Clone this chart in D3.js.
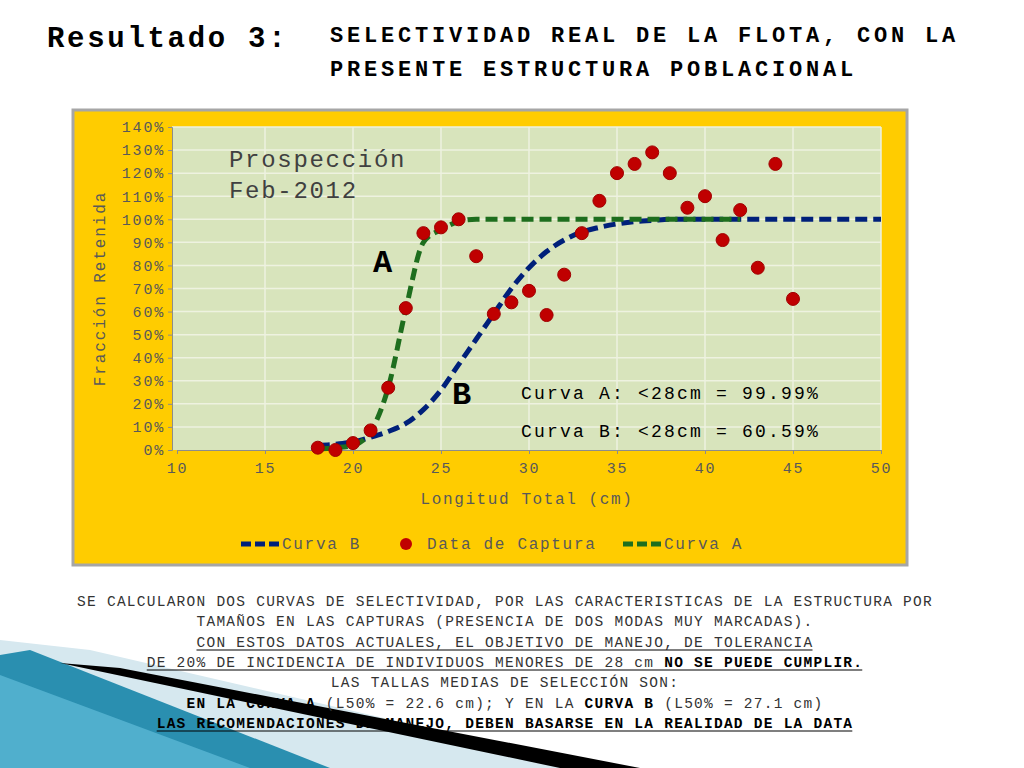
<!DOCTYPE html>
<html><head><meta charset="utf-8">
<script src="https://cdn.jsdelivr.net/npm/d3@7"></script>
<style>body{margin:0;background:#fff}svg{display:block}</style>
</head><body>
<svg id="c" width="1024" height="768"></svg>
<script>
const captureLen = [18,19,20,21,22,23,24,25,26,27,28,29,30,31,32,33,34,35,36,37,38,39,40,41,42,43,44,45];
const capturePct = [1,0,3,8.5,27,61.5,94,96.5,100,84,59,64,69,58.5,76,94,108,120,124,129,120,105,110,91,104,79,124,65.5];
const curveALen = [18,19,20,21,22,23,24,25,26,27,30,35,40,42];
const curveAPct = [0.5,1,2,8,27,61,90,95.5,99,100,100,100,100,100];
const curveBLen = [18,19,20,21,22,23,24,25,26,27,28,29,30,31,32,33,34,35,36,37,38,40,45,50];
const curveBPct = [2,2.5,3.5,5.5,8,11.5,17.5,26,37,48,59,70,79,86,91,94.5,96.5,98,99,99.5,100,100,100,100];
const xTicks = [10,15,20,25,30,35,40,45,50];
const yTicks = d3.range(0,141,10);

const svg = d3.select("#c");
const mono = "'Liberation Mono', 'DejaVu Sans Mono', monospace";

function txt(x, y, s, size, ls, opts = {}) {
  return svg.append("text").attr("x", x).attr("y", y).attr("font-family", mono)
    .attr("font-size", size).attr("letter-spacing", ls)
    .attr("font-weight", opts.bold ? "bold" : "normal").attr("fill", opts.fill || "#000")
    .attr("text-anchor", opts.anchor || "start").text(s);
}

// decorative background shapes bottom-left
svg.append("polygon").attr("points","0,640 0,768 600,768 90,650").attr("fill","#d6e8ef");
svg.append("polygon").attr("points","0,655 0,768 330,768 30,650").attr("fill","#2a8fb0");
svg.append("polygon").attr("points","0,675 0,768 250,768").attr("fill","#5ab7d4").attr("opacity",0.8);
svg.append("polygon").attr("points","60,663 120,668 640,768 560,768").attr("fill","#000");

// titles
txt(47, 47, "Resultado 3:", 29, 2.7, {bold:true});
txt(330, 42, "SELECTIVIDAD REAL DE LA FLOTA, CON LA", 22, 3.8, {bold:true});
txt(330, 76, "PRESENTE ESTRUCTURA POBLACIONAL", 22, 3.8, {bold:true});

// chart frame
svg.append("rect").attr("x",73).attr("y",110).attr("width",834).attr("height",455)
  .attr("fill","#ffcc00").attr("stroke","#a6a6a6").attr("stroke-width",3);

const m = {l:177, r:881, t:127, b:450};
svg.append("rect").attr("x",m.l-5).attr("y",m.t).attr("width",m.r-m.l+5).attr("height",m.b-m.t).attr("fill","#d8e4bc");

const x = d3.scaleLinear().domain([10,50]).range([m.l,m.r]);
const y = d3.scaleLinear().domain([0,140]).range([m.b,m.t]);

svg.append("g").selectAll("line").data(yTicks.slice(1)).join("line")
  .attr("x1",m.l-5).attr("x2",m.r).attr("y1",d=>y(d)).attr("y2",d=>y(d))
  .attr("stroke","#eef2e0").attr("stroke-width",1.5);
svg.append("g").selectAll("line").data(xTicks.slice(1)).join("line")
  .attr("x1",d=>x(d)).attr("x2",d=>x(d)).attr("y1",m.t).attr("y2",m.b)
  .attr("stroke","#eef2e0").attr("stroke-width",1.5);

const yAxis = svg.append("g").attr("transform",`translate(${m.l-5},0)`)
  .call(d3.axisLeft(y).tickValues(yTicks).tickFormat(d=>d+"%").tickSize(4));
const xAxis = svg.append("g").attr("transform",`translate(0,${m.b})`)
  .call(d3.axisBottom(x).tickValues(xTicks).tickSize(4).tickPadding(8));
[yAxis,xAxis].forEach(a=>{
  a.selectAll("path,line").attr("stroke","#8c8c8c");
  a.selectAll("text").attr("font-family",mono).attr("font-size",15).attr("letter-spacing",1.8).attr("fill","#595959");
});

svg.append("text").attr("transform",`translate(105,${(m.t+m.b)/2}) rotate(-90)`).attr("text-anchor","middle")
  .attr("font-family",mono).attr("font-size",16).attr("letter-spacing",1.9).attr("fill","#595959").text("Fracción Retenida");
txt((m.l+m.r)/2-2, 504, "Longitud Total (cm)", 16, 1.6, {fill:"#595959", anchor:"middle"});

const line = d3.line().x(d=>x(d[0])).y(d=>y(d[1])).curve(d3.curveMonotoneX);
svg.append("path").datum(d3.zip(curveBLen,curveBPct)).attr("d",line).attr("fill","none")
  .attr("stroke","#00207a").attr("stroke-width",5).attr("stroke-dasharray","12,6");
svg.append("path").datum(d3.zip(curveALen,curveAPct)).attr("d",line).attr("fill","none")
  .attr("stroke","#1e6e1e").attr("stroke-width",5).attr("stroke-dasharray","12,6");

svg.append("g").selectAll("circle").data(d3.zip(captureLen,capturePct)).join("circle")
  .attr("cx",d=>x(d[0])).attr("cy",d=>y(d[1])).attr("r",6.5).attr("fill","#c00000").attr("stroke","#a00000");

txt(229, 167, "Prospección", 24, 1.7, {fill:"#404040"});
txt(229, 198, "Feb-2012", 24, 1.7, {fill:"#404040"});
txt(373, 272, "A", 32, 0, {bold:true});
txt(452, 404, "B", 32, 0, {bold:true});
txt(521, 399, "Curva A: <28cm = 99.99%", 18, 2.2);
txt(521, 437, "Curva B: <28cm = 60.59%", 18, 2.2);

// legend
const lc = "#595959";
svg.append("line").attr("x1",241).attr("x2",281).attr("y1",544).attr("y2",544).attr("stroke","#00207a").attr("stroke-width",5).attr("stroke-dasharray","10,4");
txt(282, 549, "Curva B", 16, 1.7, {fill:lc});
svg.append("circle").attr("cx",406).attr("cy",544).attr("r",6).attr("fill","#c00000");
txt(427, 549, "Data de Captura", 16, 1.7, {fill:lc});
svg.append("line").attr("x1",623).attr("x2",663).attr("y1",544).attr("y2",544).attr("stroke","#1e6e1e").attr("stroke-width",5).attr("stroke-dasharray","10,4");
txt(664, 549, "Curva A", 16, 1.7, {fill:lc});

// bottom notes
const notes = [
  {y:606, parts:[["SE CALCULARON DOS CURVAS DE SELECTIVIDAD, POR LAS CARACTERISTICAS DE LA ESTRUCTURA POR",0]]},
  {y:626, parts:[["TAMAÑOS EN LAS CAPTURAS (PRESENCIA DE DOS MODAS MUY MARCADAS).",0]]},
  {y:647, u:true, parts:[["CON ESTOS DATOS ACTUALES, EL OBJETIVO DE MANEJO, DE TOLERANCIA",0]]},
  {y:667, u:true, parts:[["DE 20% DE INCIDENCIA DE INDIVIDUOS MENORES DE 28 cm ",0],["NO SE PUEDE CUMPLIR.",1]]},
  {y:687, parts:[["LAS TALLAS MEDIAS DE SELECCIÓN SON:",0]]},
  {y:708, parts:[["EN LA ",1],["CURVA A",1],[" (L50% = 22.6 cm); Y EN LA ",0],["CURVA B",1],[" (L50% = 27.1 cm)",0]]},
  {y:728, u:true, parts:[["LAS RECOMENDACIONES DE MANEJO, DEBEN BASARSE EN LA REALIDAD DE LA DATA",1]]}
];
notes.forEach(n=>{
  const t = txt(505, n.y, "", 14.5, 1.25, {fill:"#333", anchor:"middle"});
  n.parts.forEach(p=>t.append("tspan").attr("font-weight",p[1]?"bold":"normal").attr("fill",p[1]?"#000":"#333").text(p[0]));
  if(n.u){
    const bb = t.node().getBBox();
    svg.append("line").attr("x1",bb.x).attr("x2",bb.x+bb.width-1).attr("y1",n.y+3).attr("y2",n.y+3).attr("stroke","#000").attr("stroke-width",1.2);
  }
});
</script>
</body></html>
